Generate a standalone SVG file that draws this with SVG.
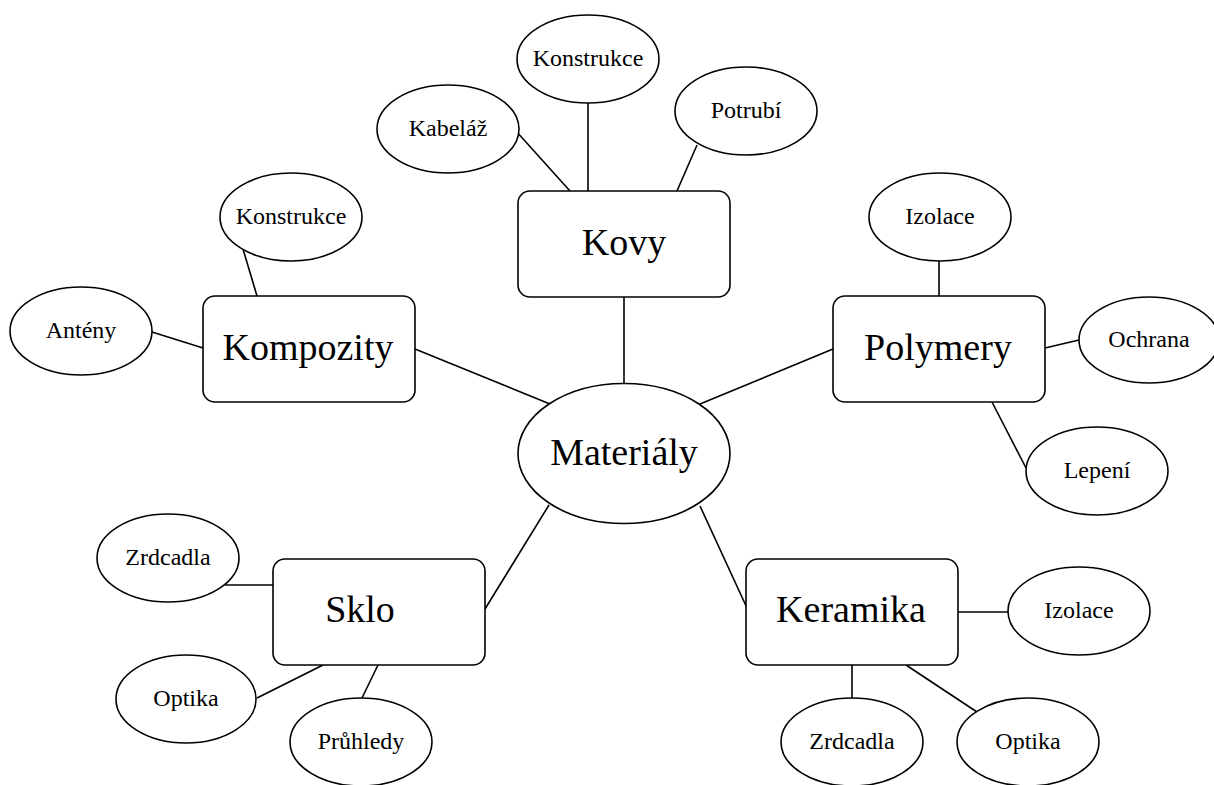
<svg xmlns="http://www.w3.org/2000/svg" width="1214" height="785" viewBox="0 0 1214 785">
<style>
.n{fill:#fff;stroke:#000;stroke-width:1.6}
.e{stroke:#000;stroke-width:1.6;fill:none}
.big{font-family:"Liberation Serif","Times New Roman",serif;font-size:38px;fill:#000;text-anchor:middle}
.sm{font-family:"Liberation Serif","Times New Roman",serif;font-size:24px;fill:#000;text-anchor:middle}
</style>
<rect width="1214" height="785" fill="#fff"/>
<g id="connectors" class="e">
<line x1="624" y1="297" x2="624" y2="384"/>
<line x1="415" y1="349" x2="550" y2="404"/>
<line x1="833" y1="349" x2="700" y2="404"/>
<line x1="485" y1="609" x2="549" y2="505"/>
<line x1="747" y1="608" x2="700" y2="506"/>
<line x1="516" y1="131" x2="570" y2="191"/>
<line x1="588" y1="103" x2="588" y2="191"/>
<line x1="697" y1="145" x2="677" y2="191"/>
<line x1="243" y1="249" x2="257" y2="296"/>
<line x1="152" y1="332" x2="203" y2="348"/>
<line x1="939" y1="261" x2="939" y2="296"/>
<line x1="1045" y1="348" x2="1079" y2="340"/>
<line x1="992" y1="402" x2="1026" y2="468"/>
<line x1="225" y1="585" x2="273" y2="585"/>
<line x1="257" y1="698" x2="323" y2="665"/>
<line x1="362" y1="698" x2="378" y2="665"/>
<line x1="958" y1="612" x2="1008" y2="612"/>
<line x1="852" y1="665" x2="852" y2="699"/>
<line x1="906" y1="665" x2="977" y2="712"/>
</g>
<g id="materialy"><ellipse class="n" cx="624" cy="453.5" rx="106" ry="70"/><text class="big" x="624" y="465">Materiály</text></g>
<g id="kovy"><rect class="n" x="518" y="191" width="212" height="106" rx="12"/><text class="big" x="624" y="255">Kovy</text></g>
<g id="kompozity"><rect class="n" x="203" y="296" width="212" height="106" rx="12"/><text class="big" x="308" y="360">Kompozity</text></g>
<g id="polymery"><rect class="n" x="833" y="296" width="212" height="106" rx="12"/><text class="big" x="938" y="360">Polymery</text></g>
<g id="sklo"><rect class="n" x="273" y="559" width="212" height="106" rx="12"/><text class="big" x="360" y="622">Sklo</text></g>
<g id="keramika"><rect class="n" x="746" y="559" width="212" height="106" rx="12"/><text class="big" x="851" y="622">Keramika</text></g>
<g id="kabelaz"><ellipse class="n" cx="448" cy="129" rx="71" ry="44"/><text class="sm" x="448" y="136">Kabeláž</text></g>
<g id="konstrukce1"><ellipse class="n" cx="588" cy="59" rx="71" ry="44"/><text class="sm" x="588" y="66">Konstrukce</text></g>
<g id="potrubi"><ellipse class="n" cx="746" cy="111" rx="71" ry="44"/><text class="sm" x="746" y="118">Potrubí</text></g>
<g id="konstrukce2"><ellipse class="n" cx="291" cy="217" rx="71" ry="44"/><text class="sm" x="291" y="224">Konstrukce</text></g>
<g id="anteny"><ellipse class="n" cx="81" cy="331" rx="71" ry="44"/><text class="sm" x="81" y="338">Antény</text></g>
<g id="izolace1"><ellipse class="n" cx="940" cy="217" rx="71" ry="44"/><text class="sm" x="940" y="224">Izolace</text></g>
<g id="ochrana"><ellipse class="n" cx="1149" cy="340" rx="70" ry="43"/><text class="sm" x="1149" y="347">Ochrana</text></g>
<g id="lepeni"><ellipse class="n" cx="1097" cy="471" rx="71" ry="44"/><text class="sm" x="1097" y="478">Lepení</text></g>
<g id="zrcadla1"><ellipse class="n" cx="168" cy="558" rx="71" ry="44"/><text class="sm" x="168" y="565">Zrdcadla</text></g>
<g id="optika1"><ellipse class="n" cx="186" cy="699" rx="70" ry="44"/><text class="sm" x="186" y="706">Optika</text></g>
<g id="pruhledy"><ellipse class="n" cx="361" cy="742" rx="71" ry="44"/><text class="sm" x="361" y="749">Průhledy</text></g>
<g id="izolace2"><ellipse class="n" cx="1079" cy="611" rx="71" ry="44"/><text class="sm" x="1079" y="618">Izolace</text></g>
<g id="zrcadla2"><ellipse class="n" cx="852" cy="742" rx="71" ry="44"/><text class="sm" x="852" y="749">Zrdcadla</text></g>
<g id="optika2"><ellipse class="n" cx="1028" cy="742" rx="71" ry="44"/><text class="sm" x="1028" y="749">Optika</text></g>
</svg>
